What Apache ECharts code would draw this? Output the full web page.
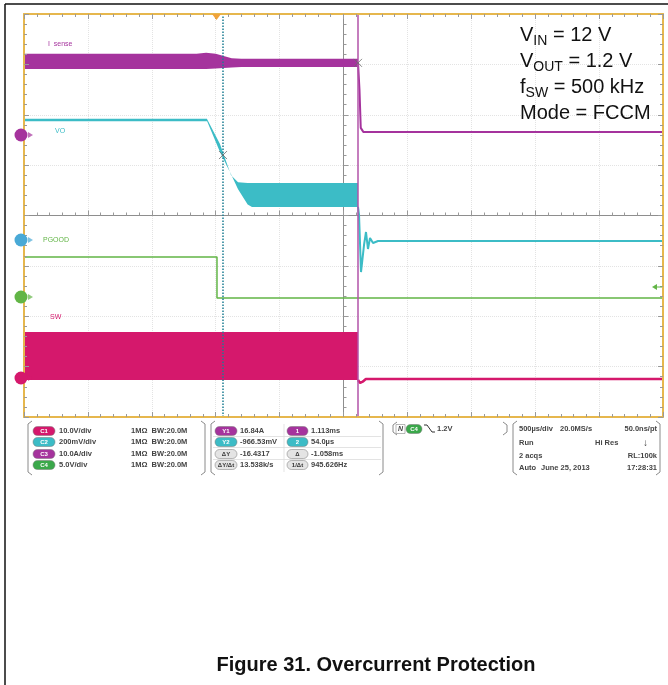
<!DOCTYPE html>
<html>
<head>
<meta charset="utf-8">
<title>Figure 31. Overcurrent Protection</title>
<script src="https://cdn.jsdelivr.net/npm/echarts@6/dist/echarts.min.js"></script>
<style>
html, body { margin: 0; padding: 0; background: #fff; }
#chart { width: 668px; height: 685px; }
</style>
</head>
<body>
<div id="chart"></div>
<script>
// scope screen in divisions, measured from screen centre (500 us/div horizontally)
// inductor current: switching band, then collapse after OC shutdown
const iLX = [-5, -2.3, -2.15, -2.0, -1.75, -1.6, 0.227];
const iLTop = [3.21, 3.21, 3.23, 3.21, 3.12, 3.11, 3.11];
const iLBottom = [2.91, 2.91, 2.91, 2.92, 2.94, 2.95, 2.95];
const iLAfter = [[0.227, 3.03], [0.25, 2.5], [0.27, 1.74], [0.31, 1.66], [5, 1.66]];

// output voltage
const voBefore = [[-5, 1.896], [-2.136, 1.896]];
const voX = [-2.136, -1.933, -1.76, -1.65, -1.5, -1.432, 0.227];
const voTop = [1.916, 1.42, 0.80, 0.66, 0.645, 0.645, 0.645];
const voBottom = [1.876, 1.261, 0.82, 0.52, 0.22, 0.169, 0.169];
const voAfter = [[0.227, 0.169], [0.243, 0.01], [0.274, -1.122], [0.321, -0.586], [0.352, -0.328],
  [0.383, -0.665], [0.415, -0.447], [0.462, -0.546], [0.54, -0.506], [5, -0.506]];

// power good
const pgood = [[-5, -0.824], [-1.98, -0.824], [-1.98, -1.638], [5, -1.638]];

// switch node
const swX = [-5, 0.227];
const swTop = [-2.313, -2.313];
const swBottom = [-3.266, -3.266];
const swAfter = [[0.227, -3.266], [0.26, -3.325], [0.3, -3.3], [0.35, -3.246], [5, -3.246]];

// cursors
const cursorX = [-1.886, 0.227];
const cursorMarks = [[-1.886, 1.2], [0.227, 3.03]];

// readouts
const chScale = ['10.0V/div', '200mV/div', '10.0A/div', '5.0V/div'];
const cursorVals1 = ['16.84A', '-966.53mV', '-16.4317', '13.538k/s'];
const cursorVals2 = ['1.113ms', '54.0\u00b5s', '-1.058ms', '945.626Hz'];
const conditions = ['V{s|IN} = 12 V', 'V{s|OUT} = 1.2 V', 'f{s|SW} = 500 kHz', 'Mode = FCCM'];

const colIL = '#a5339d';
const colVO = '#3cbcc6';
const colPG = '#62b546';
const colSW = '#d5186c';
const edgeColor = '#e6b74d';
const font = '"Liberation Sans", Arial, sans-serif';

const chart = echarts.init(document.getElementById('chart'));
const plot = { left: 24, top: 14, width: 639, height: 403 };

function band(name, xs, top, bottom, color) {
  const pts = xs.map((x, i) => [x, top[i], bottom[i]]);
  return {
    name, type: 'custom', clip: true, z: 3, silent: true,
    data: pts,
    renderItem(params, api) {
      if (params.dataIndex !== 0) return null;
      const upper = pts.map(p => api.coord([p[0], p[1]]));
      const lower = pts.map(p => api.coord([p[0], p[2]])).reverse();
      return { type: 'polygon', shape: { points: upper.concat(lower) }, style: { fill: color } };
    }
  };
}

function trace(name, data, color, width) {
  return {
    name, type: 'line', data, symbol: 'none', z: 4, silent: true,
    lineStyle: { color, width }, itemStyle: { color }
  };
}

const tickStyle = { color: '#9a9a9a' };
function axis(gridIndex, min, max, extra) {
  return Object.assign({
    gridIndex, type: 'value', min, max, interval: 1,
    axisLabel: { show: false }, splitLine: { show: false },
    axisTick: { show: true, inside: true, length: 5, lineStyle: tickStyle },
    minorTick: { show: true, splitNumber: 5, length: 3, lineStyle: tickStyle }
  }, extra);
}
const centre = {
  axisLine: { onZero: true, lineStyle: { color: '#8e8e8e', width: 1 } },
  splitLine: { show: true, lineStyle: { color: '#e3e3e3', type: 'dotted' } }
};
const edge = { z: 10, axisLine: { onZero: false, lineStyle: { color: edgeColor, width: 2 } } };

// ----- decorations -----
const g = [];
function text(x, y, s, style) {
  g.push({ type: 'text', x, y, silent: true, z: 20,
    style: Object.assign({ text: s, fill: '#444', font: 'bold 7.5px ' + font, textVerticalAlign: 'middle' }, style || {}) });
}
function pill(x, y, w, color, label, txtColor) {
  g.push({ type: 'rect', silent: true, z: 20, shape: { x, y: y - 4.5, width: w, height: 9, r: 4.5 },
    style: { fill: color, stroke: '#777', lineWidth: 0.5 } });
  text(x + w / 2, y, label, { fill: txtColor || '#fff', font: 'bold 6px ' + font, textAlign: 'center' });
}
function bracket(x0, x1, y0, y1) {
  const c = '#8a8a8a';
  g.push({ type: 'polyline', silent: true, z: 20, shape: { points: [[x0 + 4, y0], [x0, y0 + 3], [x0, y1 - 3], [x0 + 4, y1]] },
    style: { stroke: c, lineWidth: 1, fill: null } });
  g.push({ type: 'polyline', silent: true, z: 20, shape: { points: [[x1 - 4, y0], [x1, y0 + 3], [x1, y1 - 3], [x1 - 4, y1]] },
    style: { stroke: c, lineWidth: 1, fill: null } });
}
function line(x0, y0, x1, y1, color, w) {
  g.push({ type: 'line', silent: true, z: 20, shape: { x1: x0, y1: y0, x2: x1, y2: y1 },
    style: { stroke: color, lineWidth: w || 1 } });
}

// page frame
line(5, 4, 668, 4, '#111', 1.5);
line(5, 4, 5, 685, '#111', 1.5);

// channel labels on screen
text(48, 44, 'I  sense', { fill: colIL, font: '7px ' + font });
text(55, 131, 'VO', { fill: colVO, font: '7px ' + font });
text(43, 240, 'PGOOD', { fill: colPG, font: '7px ' + font });
text(50, 317, 'SW', { fill: colSW, font: '7px ' + font });

// ground reference markers
[[135, colIL, '3'], [240, '#49a9d6', '2'], [297, colPG, '4'], [378, colSW, '1']].forEach(m => {
  g.push({ type: 'circle', silent: true, z: 21, shape: { cx: 21, cy: m[0], r: 6.5 }, style: { fill: m[1] } });
  text(21, m[0], m[2], { fill: '#fff', font: 'bold 7px ' + font, textAlign: 'center' });
  g.push({ type: 'polygon', silent: true, z: 21, shape: { points: [[28, m[0] - 3], [33, m[0]], [28, m[0] + 3]] }, style: { fill: m[1], opacity: 0.7 } });
});
// trigger position and level
g.push({ type: 'polygon', silent: true, z: 21, shape: { points: [[212, 14], [221, 14], [216.5, 20]] }, style: { fill: '#f0a33a' } });
g.push({ type: 'polygon', silent: true, z: 21, shape: { points: [[652, 287], [657, 284], [657, 290]] }, style: { fill: colPG } });
line(656, 287, 662, 287, colPG, 1);

// test conditions
conditions.forEach((s, i) => {
  g.push({ type: 'text', x: 520, y: 35 + i * 26, silent: true, z: 20,
    style: { text: '{m|' + s.replace(/\{s\|([^}]*)\}/g, '}{s|$1}{m|') + '}', textVerticalAlign: 'middle',
      rich: { m: { fontSize: 20, fontFamily: font, fill: '#111', lineHeight: 26 },
              s: { fontSize: 14, fontFamily: font, fill: '#111', lineHeight: 14, verticalAlign: 'bottom' } } } });
});

// readout panel
const rows = [431, 442, 454, 465];
bracket(28, 205, 421, 475);
[[colSW, 'C1'], [colVO, 'C2'], [colIL, 'C3'], ['#3aa84a', 'C4']].forEach((b, i) => {
  pill(33, rows[i], 22, b[0], b[1]);
  text(59, rows[i], chScale[i]);
  text(131, rows[i], '1M\u03a9  BW:20.0M');
});
bracket(211, 383, 421, 475);
[[colIL, 'Y1'], [colVO, 'Y2'], ['#e4e4e4', '\u0394Y'], ['#e4e4e4', '\u0394Y/\u0394t']].forEach((b, i) => {
  pill(215, rows[i], 22, b[0], b[1], i > 1 ? '#333' : '#fff');
  text(240, rows[i], cursorVals1[i]);
  if (i < 3) line(213, rows[i] + 5.5, 381, rows[i] + 5.5, '#dcdcdc', 0.8);
});
[[colIL, '1'], [colVO, '2'], ['#e4e4e4', '\u0394'], ['#e4e4e4', '1/\u0394t']].forEach((b, i) => {
  pill(287, rows[i], 21, b[0], b[1], i > 1 ? '#333' : '#fff');
  text(311, rows[i], cursorVals2[i]);
});
line(284, 424, 284, 472, '#dcdcdc', 0.8);
bracket(393, 507, 422, 435);
g.push({ type: 'rect', silent: true, z: 20, shape: { x: 396, y: 424.5, width: 9, height: 9 }, style: { fill: '#fff', stroke: '#888', lineWidth: 0.6 } });
text(400.5, 429, 'N', { textAlign: 'center', font: 'italic bold 7px ' + font });
pill(406, 429, 16, '#3aa84a', 'C4');
g.push({ type: 'polyline', silent: true, z: 20, shape: { points: [[424, 425], [427, 425], [432, 432], [435, 432]] }, style: { stroke: '#333', lineWidth: 1, fill: null } });
text(437, 429, '1.2V');
bracket(513, 660, 421, 475);
const rr = [429, 443, 456, 468];
text(519, rr[0], '500\u00b5s/div'); text(560, rr[0], '20.0MS/s'); text(657, rr[0], '50.0ns/pt', { textAlign: 'right' });
text(519, rr[1], 'Run'); text(595, rr[1], 'Hi Res'); text(643, rr[1], '\u2193', { font: 'bold 10px ' + font });
text(519, rr[2], '2 acqs'); text(657, rr[2], 'RL:100k', { textAlign: 'right' });
text(519, rr[3], 'Auto'); text(541, rr[3], 'June 25, 2013'); text(657, rr[3], '17:28:31', { textAlign: 'right' });

// caption
text(376, 665, 'Figure 31. Overcurrent Protection', { fill: '#111', font: 'bold 20px ' + font, textAlign: 'center' });

const option = {
  animation: false,
  backgroundColor: '#fff',
  grid: [Object.assign({}, plot), Object.assign({}, plot), Object.assign({}, plot)],
  xAxis: [
    axis(0, -5, 5, centre),
    axis(1, -5, 5, Object.assign({ position: 'bottom' }, edge)),
    axis(2, -5, 5, Object.assign({ position: 'top' }, edge))
  ],
  yAxis: [
    axis(0, -4, 4, centre),
    axis(1, -4, 4, Object.assign({ position: 'left' }, edge)),
    axis(2, -4, 4, Object.assign({ position: 'right' }, edge))
  ],
  series: [
    band('I_L', iLX, iLTop, iLBottom, colIL),
    trace('I_L', iLAfter, colIL, 2),
    trace('VO', voBefore, colVO, 2.5),
    band('VO', voX, voTop, voBottom, colVO),
    trace('VO', voAfter, colVO, 2),
    trace('PGOOD', pgood, colPG, 1.5),
    band('SW', swX, swTop, swBottom, colSW),
    trace('SW', swAfter, colSW, 2.5),
    {
      name: 'cursors', type: 'scatter', z: 6, silent: true,
      data: cursorMarks,
      symbol: 'path://M0,0L10,10M10,0L0,10', symbolSize: 8,
      itemStyle: { color: 'none', borderColor: '#6a6a6a', borderWidth: 1 },
      markLine: {
        silent: true, symbol: 'none', label: { show: false }, animation: false,
        data: [
          { xAxis: cursorX[0], lineStyle: { color: '#1d7d92', type: 'dotted', width: 1.5 } },
          { xAxis: cursorX[1], lineStyle: { color: '#b253a8', type: 'solid', width: 1.5 } }
        ]
      }
    }
  ],
  graphic: { elements: g }
};
chart.setOption(option);
window.addEventListener('resize', () => chart.resize());
</script>
</body>
</html>
